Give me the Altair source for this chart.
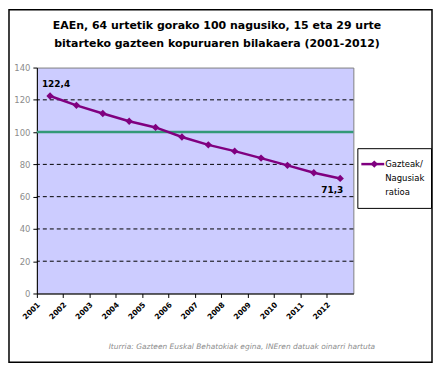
import altair as alt
import pandas as pd

years = [str(y) for y in range(2001, 2013)]
ratio = [122.4, 116.6, 111.5, 106.7, 102.9, 97.0, 92.1, 88.2, 83.9, 79.4, 74.8, 71.3]
y_ticks = [0, 20, 40, 60, 80, 100, 120, 140]
grid_vals = [20, 40, 60, 80, 120]
ref_value = 100
title_lines = ["EAEn, 64 urtetik gorako 100 nagusiko, 15 eta 29 urte",
               "bitarteko gazteen kopuruaren bilakaera (2001-2012)"]
source_note = "Iturria: Gazteen Euskal Behatokiak egina, INEren datuak oinarri hartuta"
legend_lines = ["Gazteak/", "Nagusiak", "ratioa"]

W, H = 318, 227
PL, PT = 29, 59
SVG_W, SVG_H = 427, 356
FONT = "DejaVu Sans"

df = pd.DataFrame({"year": years, "ratio": ratio})
lab_df = pd.DataFrame({
    "year": [years[0], years[-1]],
    "ratio": [ratio[0], ratio[-1]],
    "label": [f"{ratio[0]:.1f}".replace(".", ","), f"{ratio[-1]:.1f}".replace(".", ",")],
})
grid_df = pd.DataFrame({"ratio": grid_vals})
ref_df = pd.DataFrame({"ratio": [ref_value]})
one = pd.DataFrame({"a": [0]})

xs = alt.Scale(type="band", domain=years, paddingInner=0, paddingOuter=0)
ys = alt.Scale(domain=[0, 140], nice=False, zero=True)

x_axis = alt.Axis(bandPosition=0, labelAngle=-45, labelAlign="right",
                  labelBaseline="middle", labelFont=FONT, labelFontSize=7.5,
                  labelFontWeight="bold", labelColor="black", labelPadding=6,
                  labelOffset=-11,
                  tickColor="black", tickSize=4, domainColor="black",
                  grid=False, labelOverlap=False)
y_axis = alt.Axis(values=y_ticks, labelFont=FONT, labelFontSize=8.5,
                  labelColor="#8c8c8c", labelPadding=3, tickColor="black",
                  tickSize=4, domainColor="black", grid=False)

border = alt.Chart(one).mark_rect(fillOpacity=0, stroke="black", strokeWidth=1.5).encode(
    x=alt.value(-PL + 1), x2=alt.value(SVG_W - PL - 1),
    y=alt.value(-PT + 1), y2=alt.value(SVG_H - PT - 1))

grid = alt.Chart(grid_df).mark_rule(color="black", strokeDash=[4, 3], strokeWidth=1).encode(
    y=alt.Y("ratio:Q", scale=ys, axis=y_axis, title=None))

ref = alt.Chart(ref_df).mark_rule(color="#339977", strokeWidth=2.5).encode(
    y=alt.Y("ratio:Q", scale=ys, axis=y_axis, title=None))

line = alt.Chart(df).mark_line(color="#800080", strokeWidth=2.5).encode(
    x=alt.X("year:N", scale=xs, axis=x_axis, title=None),
    y=alt.Y("ratio:Q", scale=ys, axis=y_axis, title=None))
pts = alt.Chart(df).mark_point(shape="diamond", filled=True, color="#800080",
                               size=55, opacity=1).encode(
    x=alt.X("year:N", scale=xs, axis=x_axis, title=None),
    y=alt.Y("ratio:Q", scale=ys, axis=y_axis, title=None))

lab1 = alt.Chart(lab_df.iloc[[0]]).mark_text(font=FONT, fontSize=9, fontWeight="bold",
                                             color="black", dx=6, dy=-12).encode(
    x=alt.X("year:N", scale=xs, axis=x_axis, title=None),
    y=alt.Y("ratio:Q", scale=ys, axis=y_axis, title=None), text="label:N")
lab2 = alt.Chart(lab_df.iloc[[1]]).mark_text(font=FONT, fontSize=9, fontWeight="bold",
                                             color="black", dx=-8, dy=12).encode(
    x=alt.X("year:N", scale=xs, axis=x_axis, title=None),
    y=alt.Y("ratio:Q", scale=ys, axis=y_axis, title=None), text="label:N")

# title as text lines
title1 = alt.Chart(one).mark_text(font=FONT, fontSize=11, fontWeight="bold", color="black",
                                  align="center", baseline="middle").encode(
    x=alt.value(181), y=alt.value(-42), text=alt.value(title_lines[0]))
title2 = alt.Chart(one).mark_text(font=FONT, fontSize=11, fontWeight="bold", color="black",
                                  align="center", baseline="middle").encode(
    x=alt.value(181), y=alt.value(-24), text=alt.value(title_lines[1]))

# legend (manual)
LX0, LY0 = 322, 81
leg_box = alt.Chart(one).mark_rect(fillOpacity=0, stroke="black", strokeWidth=1).encode(
    x=alt.value(LX0 + 0.5), x2=alt.value(LX0 + 74.5), y=alt.value(LY0 + 0.5), y2=alt.value(LY0 + 60.5))
leg_line = alt.Chart(one).mark_rule(color="#800080", strokeWidth=2.5).encode(
    x=alt.value(LX0 + 4), x2=alt.value(LX0 + 27), y=alt.value(LY0 + 16))
leg_pt = alt.Chart(one).mark_point(shape="diamond", filled=True, color="#800080", size=55,
                                   opacity=1).encode(x=alt.value(LX0 + 17), y=alt.value(LY0 + 16))
leg_txt = alt.Chart(one).mark_text(font=FONT, fontSize=8.5, color="black", align="left",
                                   baseline="middle", lineBreak="\n", lineHeight=14).encode(
    x=alt.value(LX0 + 28), y=alt.value(LY0 + 16), text=alt.value("\n".join(legend_lines)))

note = alt.Chart(one).mark_text(font=FONT, fontSize=7.5, fontStyle="italic", color="#8c8c8c",
                                align="center", baseline="middle").encode(
    x=alt.value(206), y=alt.value(281), text=alt.value(source_note))

chart = alt.layer(border, grid, ref, line, pts, lab1, lab2, title1, title2,
                  leg_box, leg_line, leg_pt, leg_txt, note).properties(
    width=W, height=H,
    autosize=alt.AutoSizeParams(type="none"),
    padding={"left": PL, "top": PT, "right": SVG_W - PL - W, "bottom": SVG_H - PT - H},
).configure_view(fill="#CCCCFF", stroke="#808080", strokeWidth=1)

chart.save("out.html", embed_options={"renderer": "svg", "actions": False})
